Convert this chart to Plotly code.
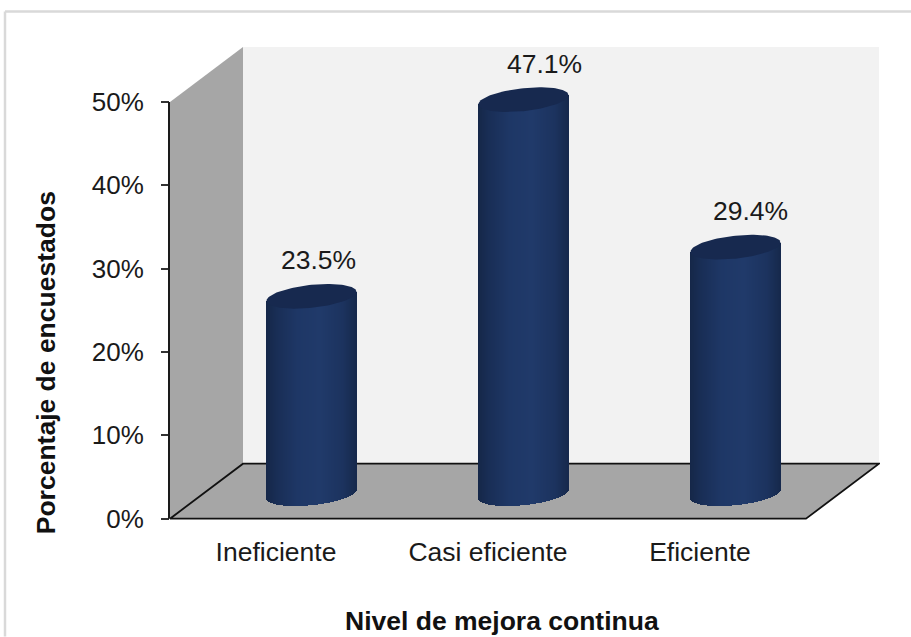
import numpy as np
import plotly.graph_objects as go

# Survey results
categories = ["Ineficiente", "Casi eficiente", "Eficiente"]
percentages = [23.5, 47.1, 29.4]
percentage_labels = ["23.5%", "47.1%", "29.4%"]
y_ticks = [0, 10, 20, 30, 40, 50]
y_tick_labels = ["0%", "10%", "20%", "30%", "40%", "50%"]
label_shift = [0.033, 0.099, 0.071]

FONT = "Liberation Sans"
W, H = 911, 637
LEFT, RIGHT_PX, TOP_PX, ZERO_PX, FIFTY_PX = 170, 880, 46, 519, 102
UNIT_PX = (ZERO_PX - FIFTY_PX) / 50      # pixels per percentage point
CAT_PX = 212.0                           # pixels per category slot

# Oblique box: how far the back wall sits behind the front plane
DEPTH_X = 73 / CAT_PX
DEPTH_Y = 55 / UNIT_PX

# Cylinder geometry in axis units
BAR_OFFSET_X = 35.5 / CAT_PX
BAR_HALF = 45 / CAT_PX
BAR_BASE = (ZERO_PX - 492.5) / UNIT_PX
BOTTOM_DROP = 1.5 / UNIT_PX
CAP_RY = 11.5 / UNIT_PX
CAP_TILT = 4.5 / UNIT_PX

x_min = -0.5
x_max = x_min + (RIGHT_PX - LEFT) / CAT_PX
y_min = -1.0
y_max = (ZERO_PX - TOP_PX) / UNIT_PX

# Horizontal shading across the cylinder face
shade_stops = [(-1.0, (21, 39, 72)), (-0.75, (25, 46, 86)), (-0.3, (30, 55, 102)),
               (0.2, (32, 58, 106)), (0.7, (28, 51, 95)), (1.0, (22, 41, 76))]


def shade(t):
    ts = [s[0] for s in shade_stops]
    rgb = [np.interp(t, ts, [s[1][i] for s in shade_stops]) for i in range(3)]
    return "rgb({:.0f},{:.0f},{:.0f})".format(*rgb)


fig = go.Figure()

# One trace of narrow bars per category gives the cylinder its rounded shading
SLICES = 90
t_vals = (np.arange(SLICES) + 0.5) / SLICES * 2 - 1
for i, (cat, val) in enumerate(zip(categories, percentages)):
    arc = np.sqrt(1 - t_vals ** 2)
    bottom = BAR_BASE - BOTTOM_DROP + CAP_TILT * t_vals - CAP_RY * arc
    top = BAR_BASE + val + CAP_TILT * t_vals
    fig.add_trace(go.Bar(
        x=i + BAR_OFFSET_X + BAR_HALF * t_vals,
        y=top - bottom,
        base=bottom,
        width=BAR_HALF * 2 / SLICES * 1.25,
        marker=dict(color=[shade(t) for t in t_vals], line=dict(width=0)),
        name=cat,
        hoverinfo="skip",
        showlegend=False,
    ))

# Top caps of the cylinders
theta = np.linspace(0, 2 * np.pi, 121)
for i, val in enumerate(percentages):
    fig.add_trace(go.Scatter(
        x=i + BAR_OFFSET_X + BAR_HALF * np.cos(theta),
        y=BAR_BASE + val + CAP_TILT * np.cos(theta) + CAP_RY * np.sin(theta),
        mode="lines", fill="toself", fillcolor="#17294f",
        line=dict(width=0, color="#17294f"),
        hoverinfo="skip", showlegend=False,
    ))

# Percentage labels above each cylinder
fig.add_trace(go.Scatter(
    x=[i + BAR_OFFSET_X + s for i, s in enumerate(label_shift)],
    y=[BAR_BASE + v + 33.5 / UNIT_PX for v in percentages],
    mode="text", text=percentage_labels, textposition="middle center",
    textfont=dict(family=FONT, size=26.5, color="#1a1a1a"),
    hoverinfo="skip", showlegend=False,
))


def poly(points):
    return "M " + " L ".join(f"{x},{y}" for x, y in points) + " Z"


front_left, front_right = x_min, x_min + 3
floor = [(front_left, 0), (front_right, 0), (front_right + DEPTH_X, DEPTH_Y), (front_left + DEPTH_X, DEPTH_Y)]
side = [(front_left, 0), (front_left, 50), (front_left + DEPTH_X, 50 + DEPTH_Y), (front_left + DEPTH_X, DEPTH_Y)]
back = [(front_left + DEPTH_X, DEPTH_Y), (front_left + DEPTH_X, 50 + DEPTH_Y),
        (front_right + DEPTH_X, 50 + DEPTH_Y), (front_right + DEPTH_X, DEPTH_Y)]

plot_h = ZERO_PX - y_min * UNIT_PX - TOP_PX
plot_w = RIGHT_PX - LEFT


def px_x(px):
    return (px - LEFT) / plot_w


def px_y(py):
    return 1 - (py - TOP_PX) / plot_h


shapes = [
    dict(type="path", path=poly(back), xref="x", yref="y", fillcolor="#f2f2f2", line=dict(width=0), layer="below"),
    dict(type="path", path=poly(side), xref="x", yref="y", fillcolor="#a6a6a6", line=dict(width=0), layer="below"),
    dict(type="path", path=poly(floor), xref="x", yref="y", fillcolor="#a6a6a6",
         line=dict(width=1.8, color="#111111"), layer="below"),
    # vertical axis line, only as tall as the scale
    dict(type="line", xref="paper", yref="y", x0=px_x(169), x1=px_x(169), y0=0, y1=50,
         line=dict(width=2, color="#1a1a1a"), layer="above"),
    # outer frame of the chart area, top and left edges
    dict(type="line", xref="paper", yref="paper", x0=px_x(5), x1=px_x(W), y0=px_y(11.5), y1=px_y(11.5),
         line=dict(width=2.5, color="#d9d9d9"), layer="below"),
    dict(type="line", xref="paper", yref="paper", x0=px_x(5), x1=px_x(5), y0=px_y(H), y1=px_y(11.5),
         line=dict(width=2.5, color="#d9d9d9"), layer="below"),
]

annotations = [
    dict(text="<b>Nivel de mejora continua</b>", xref="paper", yref="paper",
         x=px_x(502), y=px_y(621), showarrow=False,
         font=dict(family=FONT, size=26.5, color="#111111"), xanchor="center", yanchor="middle"),
    dict(text="<b>Porcentaje de encuestados</b>", xref="paper", yref="paper",
         x=px_x(46), y=px_y(363.5), showarrow=False, textangle=-90,
         font=dict(family=FONT, size=26.5, color="#111111"), xanchor="center", yanchor="middle"),
]

fig.update_layout(
    width=W, height=H, autosize=False,
    margin=dict(l=LEFT, r=W - RIGHT_PX, t=TOP_PX, b=H - (ZERO_PX - y_min * UNIT_PX), pad=0),
    paper_bgcolor="white", plot_bgcolor="white",
    barmode="overlay", bargap=0,
    shapes=shapes, annotations=annotations,
    showlegend=False,
    xaxis=dict(range=[x_min, x_max], tickmode="array", tickvals=[0, 1, 2], ticktext=categories,
               showgrid=False, zeroline=False, showline=False,
               ticks="outside", ticklen=1, tickcolor="rgba(0,0,0,0)",
               tickfont=dict(family=FONT, size=26.5, color="#1a1a1a")),
    yaxis=dict(range=[y_min, y_max], tickmode="array", tickvals=y_ticks, ticktext=y_tick_labels,
               showgrid=False, zeroline=False, showline=False,
               ticks="outside", ticklen=8, tickwidth=1.5, tickcolor="#333333",
               ticklabelstandoff=12,
               tickfont=dict(family=FONT, size=26, color="#1a1a1a")),
)

fig.write_html("out.html")
